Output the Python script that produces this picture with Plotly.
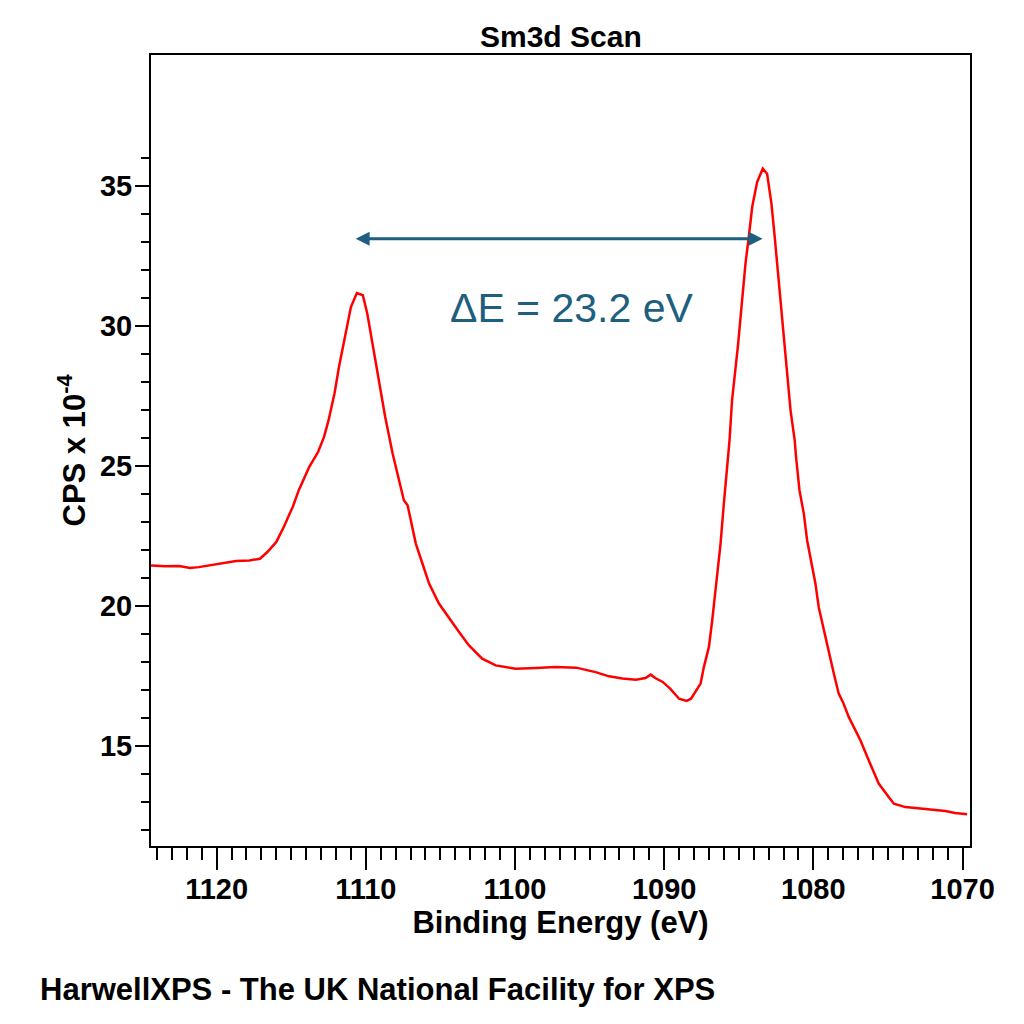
import plotly.graph_objects as go

# Binding energy (eV) and intensity (CPS x 10^-4)
energy = [1124.4, 1123.4, 1122.5, 1121.8, 1121.2, 1120.5, 1119.6, 1118.7, 1117.8, 1117.1,
          1116.6, 1116.0, 1115.5, 1114.9, 1114.5, 1113.8, 1113.2, 1112.8, 1112.5, 1112.1,
          1111.8, 1111.3, 1111.0, 1110.6, 1110.2, 1109.9, 1109.6, 1109.1, 1108.7, 1108.2,
          1107.8, 1107.45, 1107.2, 1106.9, 1106.65, 1106.2, 1105.76, 1105.1, 1104.4, 1103.75,
          1103.1, 1102.2, 1101.3, 1099.95, 1098.6, 1097.3, 1095.9, 1094.6, 1093.7, 1092.8,
          1091.9, 1091.25, 1090.9, 1090.6, 1090.1, 1089.6, 1089.0, 1088.5, 1088.2, 1087.9,
          1087.56, 1087.34, 1087.0, 1086.78, 1086.55, 1086.22, 1086.0, 1085.78, 1085.62, 1085.45,
          1085.22, 1085.04, 1084.88, 1084.73, 1084.55, 1084.33, 1084.1, 1083.77, 1083.39, 1083.1,
          1082.81, 1082.59, 1082.43, 1082.27, 1082.1, 1081.92, 1081.76, 1081.53, 1081.25, 1081.16,
          1080.93, 1080.64, 1080.42, 1080.13, 1079.86, 1079.64, 1079.3, 1079.0, 1078.63, 1078.3,
          1078.0, 1077.63, 1077.4, 1076.84, 1076.29, 1075.62, 1074.95, 1074.6, 1073.83, 1072.7,
          1071.15, 1070.5, 1069.7]
cps = [21.45, 21.42, 21.43, 21.36, 21.39, 21.45, 21.51, 21.61, 21.63, 21.69,
       21.93, 22.29, 22.82, 23.54, 24.13, 24.96, 25.50, 26.04, 26.63, 27.59,
       28.54, 29.96, 30.68, 31.18, 31.10, 30.44, 29.49, 28.06, 26.75, 25.44,
       24.61, 23.78, 23.60, 22.82, 22.23, 21.51, 20.80, 20.09, 19.55, 19.07,
       18.60, 18.12, 17.88, 17.76, 17.79, 17.82, 17.80, 17.64, 17.49, 17.41,
       17.37, 17.43, 17.55, 17.43, 17.29, 17.05, 16.69, 16.61, 16.69, 16.93,
       17.23, 17.82, 18.54, 19.49, 20.68, 22.23, 23.66, 24.85, 25.92, 27.35,
       28.42, 29.37, 30.32, 31.28, 32.23, 33.18, 34.25, 35.14, 35.62, 35.44,
       34.37, 33.18, 32.23, 31.28, 30.32, 29.25, 28.18, 26.99, 25.92, 25.32,
       24.13, 23.30, 22.35, 21.51, 20.80, 19.96, 19.13, 18.42, 17.59, 16.87,
       16.55, 16.04, 15.80, 15.20, 14.49, 13.66, 13.18, 12.94, 12.82, 12.76,
       12.68, 12.61, 12.56]

x_major = [1120, 1110, 1100, 1090, 1080, 1070]
x_minor = [v for v in range(1071, 1125) if v not in x_major]
y_major = [15, 20, 25, 30, 35]
y_minor = [v for v in range(12, 37) if v not in y_major]

# Annotation values
arrow_left = 1110.78
arrow_right = 1083.4
arrow_y = 33.12
delta_label = "ΔE = 23.2 eV"
label_x = 1096.2
label_y = 30.63

FONT = "Liberation Sans"
TEAL = "#1e5f80"

W, H = 1016, 1016
ML, MR, MT, MB = 143, 54, 47, 178

fig = go.Figure()
fig.add_trace(go.Scatter(x=energy, y=cps, mode="lines",
                         line=dict(color="#ff0000", width=2.5),
                         showlegend=False, hoverinfo="skip"))

axis_common = dict(showline=True, linecolor="black", linewidth=2, mirror=True,
                   ticks="outside", tickwidth=2, tickcolor="black",
                   showgrid=False, zeroline=False,
                   tickfont=dict(family=FONT, size=29, color="black", weight="bold"))

fig.update_xaxes(range=[1124.4, 1069.5], tickmode="array", tickvals=x_major,
                 ticktext=[str(v) for v in x_major], ticklen=22, ticklabelstandoff=-6,
                 minor=dict(tickmode="array", tickvals=x_minor, ticklen=12,
                            tickwidth=2, tickcolor="black", ticks="outside"),
                 title=dict(text="Binding Energy (eV)", standoff=0,
                            font=dict(family=FONT, size=31, color="black", weight="bold")),
                 **axis_common)
fig.update_yaxes(range=[11.43, 39.68], tickmode="array", tickvals=y_major,
                 ticktext=[str(v) for v in y_major], ticklen=14, ticklabelstandoff=-3,
                 minor=dict(tickmode="array", tickvals=y_minor, ticklen=8,
                            tickwidth=2, tickcolor="black", ticks="outside"),
                 title=dict(text="CPS x 10<sup>-4</sup>", standoff=5,
                            font=dict(family=FONT, size=31, color="black", weight="bold")),
                 **axis_common)

fig.add_annotation(x=arrow_right, y=arrow_y, ax=arrow_left, ay=arrow_y,
                   xref="x", yref="y", axref="x", ayref="y", text="",
                   showarrow=True, arrowside="end+start", arrowhead=2, startarrowhead=2,
                   arrowsize=0.93, startarrowsize=0.93, arrowwidth=3, arrowcolor=TEAL)
fig.add_annotation(x=label_x, y=label_y, xref="x", yref="y", text=delta_label,
                   showarrow=False, xanchor="center", yanchor="middle",
                   font=dict(family=FONT, size=41, color=TEAL))

plot_h = H - MT - MB
plot_w = W - ML - MR
fig.add_annotation(x=0.5, y=(plot_h + MT - 29) / plot_h, xref="paper", yref="paper",
                   text="Sm3d Scan", showarrow=False, xanchor="center", yanchor="middle",
                   font=dict(family=FONT, size=30, color="black", weight="bold"))
fig.add_annotation(x=(30 - ML) / plot_w, y=-(989.5 - 8 - (H - MB)) / plot_h,
                   xref="paper", yref="paper",
                   text="HarwellXPS - The UK National Facility for XPS",
                   showarrow=False, xanchor="left", yanchor="middle",
                   font=dict(family=FONT, size=31, color="black", weight="bold"))

fig.update_layout(width=W, height=H,
                  margin=dict(l=ML, r=MR, t=MT, b=MB, autoexpand=False),
                  paper_bgcolor="white", plot_bgcolor="white")

fig.write_html("out.html")
